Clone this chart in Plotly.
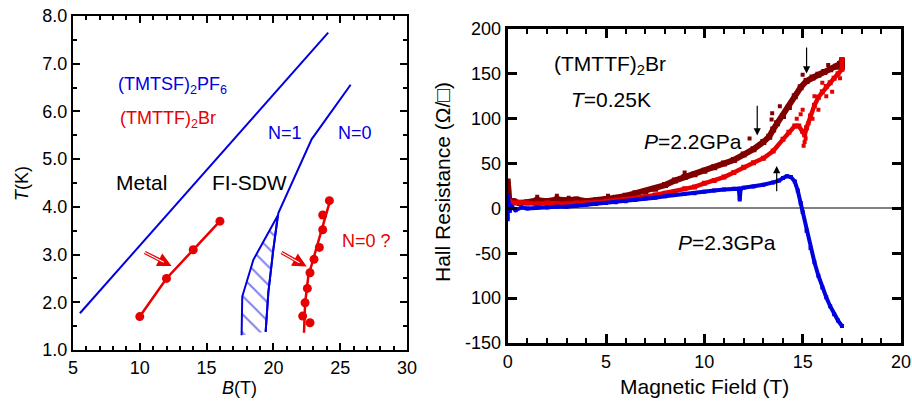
import plotly.graph_objects as go

FONT = "Liberation Sans, Arial, Helvetica, sans-serif"
BLUE = "#0000e0"
RED = "#e60000"
DARKRED = "#800000"

# ---------------- Left panel: phase diagram ----------------
fisdw_B = [5.52, 24.1]
fisdw_T = [1.77, 7.65]

n10_B = [19.42, 19.62, 19.99, 20.37, 22.87, 25.78]
n10_T = [1.38, 2.2, 3.1, 3.87, 5.42, 6.56]

hatch_B = [17.62, 17.67, 18.50, 20.33, 19.99, 19.62, 19.42]
hatch_T = [1.31, 2.12, 2.89, 3.82, 3.1, 2.2, 1.38]

br_low_B = [10, 12, 14, 16]
br_low_T = [1.70, 2.50, 3.10, 3.70]

br_high_line_B = [22.29, 22.37, 22.61, 22.99, 23.62, 24.24]
br_high_line_T = [1.36, 1.98, 2.54, 2.92, 3.52, 4.13]
br_high_B = [22.19, 22.74, 22.37, 22.54, 22.74, 23.04, 23.44, 23.69, 23.69, 24.19]
br_high_T = [1.71, 1.57, 1.99, 2.29, 2.62, 2.90, 3.15, 3.52, 3.83, 4.13]

# ---------------- Right panel: Hall resistance ----------------
blue_B = [0.00, 0.02, 0.05, 0.1, 0.2, 0.4, 0.7, 1.0, 1.5, 2.0, 2.5, 3.0, 3.5, 4.0, 4.5,
          5.0, 5.5, 6.0, 6.5, 7.0, 7.5, 8.0, 8.5, 9.0, 9.5, 10.0, 10.5, 11.0, 11.5,
          11.75, 11.8, 11.85, 12.0, 12.5, 13.0, 13.5, 13.8, 14.0, 14.2, 14.4, 14.6,
          14.75, 14.9, 15.0, 15.2, 15.4, 15.6, 15.8, 16.0, 16.2, 16.4, 16.6, 16.8, 17.0]
blue_R = [-12, 15, 5, -3, 2, -2, 1, 0, 1, 1, 2, 2, 3, 4, 5,
          6, 7, 8, 9.5, 11, 12, 13.5, 15, 16, 17, 18.5, 20, 21, 22,
          22, 10, 22, 23, 24.5, 26.5, 29, 31, 34, 36, 35, 30,
          20, 6, -4, -25, -44, -60, -75, -88, -99, -109, -118, -125, -131]

dred_B = [0.0, 0.02, 0.05, 0.1, 0.3, 0.6, 1.0, 1.5, 2.0, 2.5, 3.0, 3.5, 4.0, 4.5, 5.0,
          5.5, 6.0, 6.5, 7.0, 7.5, 8.0, 8.5, 9.0, 9.5, 10.0, 10.5, 11.0, 11.5, 12.0,
          12.5, 13.0, 13.3, 13.5, 13.7, 14.0, 14.3, 14.6, 14.9, 15.2, 15.5, 15.8,
          16.1, 16.4, 16.7, 16.9, 17.0, 17.0]
dred_R = [30, 21, 10, 5, 8, 6, 7, 9, 8, 10, 9, 10, 8, 9, 10,
          12, 14, 17, 19, 22, 26, 31, 35, 38, 42, 46, 50, 54, 60,
          66, 74, 80, 88, 95, 103, 113, 125, 135, 142, 146, 149,
          152, 155, 158, 161, 165, 158]
dred_noise_B = [0.0, 1.5, 2.5, 3.1, 5.1, 9.0, 12.3, 13.42, 13.45, 13.84, 15.0, 16.3]
dred_noise_R = [26, 13, 14, 12, 14, 40, 78, 99, 106, 114, 149, 160]

red_B = [0.0, 0.03, 0.1, 0.3, 0.6, 1.0, 1.5, 2.0, 2.5, 3.0, 3.5, 4.0, 4.5, 5.0, 5.5,
         6.0, 6.5, 7.0, 7.5, 8.0, 8.5, 9.0, 9.5, 10.0, 10.5, 11.0, 11.5, 12.0, 12.5,
         13.0, 13.5, 14.0, 14.3, 14.6, 14.8, 15.0, 15.1, 15.2, 15.4, 15.6, 15.8, 16.0,
         16.2, 16.4, 16.6, 16.8, 17.0, 17.0]
red_R = [12, 5, 8, 6, 7, 6, 5, 6, 5, 5, 6, 6, 7, 8, 9,
         10, 11, 13, 15, 17, 19, 22, 24, 28, 31, 35, 40, 46, 51,
         56, 64, 77, 85, 92, 92, 86, 82, 90, 103, 115, 124, 130,
         136, 140, 145, 150, 155, 166]
red_noise_B = [15.05, 15.1, 15.15, 14.9, 15.0, 14.7, 15.3, 15.5, 15.8, 16.2, 16.5, 16.9, 16.0, 15.6]
red_noise_R = [70, 74, 78, 105, 110, 100, 95, 100, 110, 125, 130, 145, 140, 125]

fig = go.Figure()

# left traces
fig.add_trace(go.Scatter(x=fisdw_B, y=fisdw_T, mode="lines",
                         line=dict(color=BLUE, width=2), xaxis="x", yaxis="y"))
fig.add_trace(go.Scatter(x=hatch_B, y=hatch_T, mode="lines", fill="toself",
                         fillcolor="white",
                         fillpattern=dict(shape="\\", fgcolor=BLUE, bgcolor="white",
                                          size=13, solidity=0.15),
                         line=dict(color=BLUE, width=2), xaxis="x", yaxis="y"))
fig.add_trace(go.Scatter(x=n10_B, y=n10_T, mode="lines",
                         line=dict(color=BLUE, width=2), xaxis="x", yaxis="y"))
fig.add_trace(go.Scatter(x=br_low_B, y=br_low_T, mode="lines+markers",
                         line=dict(color=RED, width=2.5),
                         marker=dict(color=RED, size=9), xaxis="x", yaxis="y"))
fig.add_trace(go.Scatter(x=br_high_line_B, y=br_high_line_T, mode="lines",
                         line=dict(color=RED, width=2.5), xaxis="x", yaxis="y"))
fig.add_trace(go.Scatter(x=br_high_B, y=br_high_T, mode="markers",
                         marker=dict(color=RED, size=9), xaxis="x", yaxis="y"))

# right traces
fig.add_trace(go.Scatter(x=dred_B, y=dred_R, mode="lines+markers",
                         line=dict(color=DARKRED, width=6),
                         marker=dict(color=DARKRED, size=6, symbol="square"),
                         xaxis="x2", yaxis="y2"))
fig.add_trace(go.Scatter(x=dred_noise_B, y=dred_noise_R, mode="markers",
                         marker=dict(color=DARKRED, size=4, symbol="square"),
                         xaxis="x2", yaxis="y2"))
fig.add_trace(go.Scatter(x=red_B, y=red_R, mode="lines+markers",
                         line=dict(color=RED, width=4.5),
                         marker=dict(color=RED, size=5, symbol="square"),
                         xaxis="x2", yaxis="y2"))
fig.add_trace(go.Scatter(x=red_noise_B, y=red_noise_R, mode="markers",
                         marker=dict(color=RED, size=4, symbol="square"),
                         xaxis="x2", yaxis="y2"))
fig.add_trace(go.Scatter(x=blue_B, y=blue_R, mode="lines+markers",
                         line=dict(color=BLUE, width=4),
                         marker=dict(color=BLUE, size=4, symbol="square"),
                         xaxis="x2", yaxis="y2"))

tickfont = dict(family=FONT, size=18, color="black")
base = dict(showline=True, linecolor="black", mirror="allticks", ticks="inside",
            tickcolor="black", showgrid=False, zeroline=False, tickfont=tickfont,
            automargin=False, fixedrange=True)

fig.update_layout(
    width=912, height=401,
    margin=dict(l=0, r=0, t=0, b=0),
    paper_bgcolor="white", plot_bgcolor="white",
    showlegend=False,
    font=dict(family=FONT, color="black"),
    xaxis=dict(base, domain=[0.0800, 0.4463], range=[5, 30], tick0=5, dtick=5,
               ticklen=7, tickwidth=2, linewidth=2, anchor="y",
               minor=dict(ticks="inside", dtick=1, ticklen=4, tickwidth=2,
                          tickcolor="black", showgrid=False)),
    yaxis=dict(base, domain=[0.1272, 0.9601], range=[1, 8], tick0=1, dtick=1,
               tickformat=".1f", ticklen=7, tickwidth=2, linewidth=2, anchor="x",
               minor=dict(ticks="inside", dtick=0.5, ticklen=4, tickwidth=2,
                          tickcolor="black", showgrid=False)),
    xaxis2=dict(base, domain=[0.5567, 0.9879], range=[0, 20], tick0=0, dtick=5,
                ticklen=9, tickwidth=3, linewidth=3, anchor="y2",
                minor=dict(ticks="inside", dtick=1, ticklen=5, tickwidth=2,
                           tickcolor="black", showgrid=False)),
    yaxis2=dict(base, domain=[0.1446, 0.9277], range=[-150, 200],
                tickvals=[-150, -100, -50, 0, 50, 100, 150, 200],
                ticktext=["-150", "100", "-50", "0", "50", "100", "150", "200"],
                ticklen=9, tickwidth=3, linewidth=3, anchor="x2",
                zeroline=True, zerolinecolor="#808080", zerolinewidth=2),
)

ann = []
def txt(x, y, s, size, color="black", xref="x", yref="y", xanchor="center", angle=0):
    ann.append(dict(x=x, y=y, xref=xref, yref=yref, text=s, showarrow=False,
                    xanchor=xanchor, yanchor="middle", textangle=angle,
                    font=dict(family=FONT, size=size, color=color)))

# left panel labels
txt(8.22, 6.55, "(TMTSF)<sub>2</sub>PF<sub>6</sub>", 18, BLUE, xanchor="left")
txt(8.37, 5.83, "(TMTTF)<sub>2</sub>Br", 18, RED, xanchor="left")
txt(20.84, 5.54, "N=1", 18, BLUE)
txt(26.07, 5.55, "N=0", 18, BLUE)
txt(10.14, 4.5, "Metal", 21)
txt(18.21, 4.5, "FI-SDW", 21)
txt(26.95, 3.29, "N=0 ?", 18, RED)
# right panel labels
txt(5.22, 160, "(TMTTF)<sub>2</sub>Br", 21, xref="x2", yref="y2")
txt(5.27, 121.5, "<i>T</i>=0.25K", 21, xref="x2", yref="y2")
txt(9.44, 75, "<i>P</i>=2.2GPa", 21, xref="x2", yref="y2")
txt(11.14, -38.2, "<i>P</i>=2.3GPa", 21, xref="x2", yref="y2")
# axis titles
txt(0.024, 0.5436, "<i>T</i>(K)", 18, xref="paper", yref="paper", angle=-90)
txt(0.263, 0.0324, "<i>B</i>(T)", 18, xref="paper", yref="paper")
txt(0.773, 0.0357, "Magnetic Field (T)", 21, xref="paper", yref="paper")
txt(0.485, 0.547, "Hall Resistance (\u03a9/\u25a1)", 21, xref="paper", yref="paper", angle=-90)

def arrow(x, y, ax, ay, color, width, head, size, xref="x", yref="y"):
    ann.append(dict(x=x, y=y, ax=ax, ay=ay, xref=xref, yref=yref, axref=xref, ayref=yref,
                    text="", showarrow=True, arrowhead=head, arrowsize=size,
                    arrowwidth=width, arrowcolor=color, standoff=0, startstandoff=0))

# double-line red arrows (left panel)
arrow(12.38, 2.76, 10.26, 3.06, RED, 3.5, 2, 0.8)
arrow(11.8, 2.84, 10.26, 3.06, "white", 1.1, 0, 1)
arrow(22.49, 2.75, 20.49, 3.06, RED, 3.5, 2, 0.8)
arrow(21.95, 2.83, 20.49, 3.06, "white", 1.1, 0, 1)
# black arrows (right panel)
arrow(15.2, 150.5, 15.2, 181, "black", 1.2, 2, 1.2, "x2", "y2")
arrow(12.69, 81.4, 12.69, 116, "black", 1.2, 2, 1.2, "x2", "y2")
arrow(13.68, 47.2, 13.68, 17.5, "black", 1.2, 2, 1.2, "x2", "y2")

fig.update_layout(annotations=ann)
fig.write_html("out.html", config={"displayModeBar": False},
               post_script="document.body.style.margin='0px';")
